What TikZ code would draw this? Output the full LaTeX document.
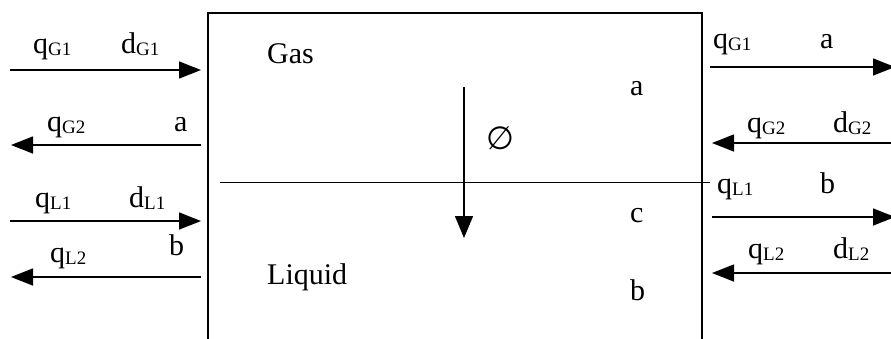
\documentclass[tikz,border=0pt]{standalone}
\usepackage{fontspec}
\setmainfont{Liberation Serif}
\newfontfamily\symfont{DejaVu Sans}
\usetikzlibrary{arrows.meta}
\newcommand\sbs[1]{\raisebox{-2pt}{\fontsize{19}{19}\selectfont #1}}
\tikzset{
  lbl/.style={anchor=base west, inner sep=0pt, font=\fontsize{30}{30}\selectfont},
  flow/.style={line width=1.5pt, -{Triangle[length=22pt,width=17pt]}},
  wall/.style={line width=2.4pt},
}
\begin{document}
\begin{tikzpicture}[x=1pt,y=-1pt]
\useasboundingbox (0,0) rectangle (891,338);
\begin{scope}
\clip (0,0) rectangle (891,338);
% vessel
\draw[wall] (208,345) -- (208,13) -- (702,13) -- (702,345);
\coordinate (ia) at (220,182);
\coordinate (ib) at (710,182);
\draw[line width=0.8pt] (ia) -- (ib);
% vertical arrow
\coordinate (va) at (464,87);
\coordinate (vb) at (464,238);
\draw[line width=1.5pt, -{Triangle[length=22pt,width=18pt]}] (va) -- (vb);
% left arrows
\coordinate (l1a) at (10,70);  \coordinate (l1b) at (201,70);
\coordinate (l2a) at (201,145); \coordinate (l2b) at (11,145);
\coordinate (l3a) at (10,221); \coordinate (l3b) at (201,221);
\coordinate (l4a) at (201,277); \coordinate (l4b) at (11,277);
\draw[flow] (l1a) -- (l1b);
\draw[flow] (l2a) -- (l2b);
\draw[flow] (l3a) -- (l3b);
\draw[flow] (l4a) -- (l4b);
% right arrows
\coordinate (r1a) at (710,67);  \coordinate (r1b) at (895,67);
\coordinate (r2a) at (891,143); \coordinate (r2b) at (712,143);
\coordinate (r3a) at (712,217); \coordinate (r3b) at (895,217);
\coordinate (r4a) at (891,273); \coordinate (r4b) at (712,273);
\draw[flow] (r1a) -- (r1b);
\draw[flow] (r2a) -- (r2b);
\draw[flow] (r3a) -- (r3b);
\draw[flow] (r4a) -- (r4b);
\end{scope}
% left labels
\node[lbl] (tqg1) at (33,53) {q\sbs{G1}};
\node[lbl] (tdg1) at (121,53) {d\sbs{G1}};
\node[lbl] (tqg2) at (47,131) {q\sbs{G2}};
\node[lbl] (ta1) at (174,131) {a};
\node[lbl] (tql1) at (35,207) {q\sbs{L1}};
\node[lbl] (tdl1) at (129,207) {d\sbs{L1}};
\node[lbl] (tb1) at (169,255) {b};
\node[lbl] (tql2) at (50,262) {q\sbs{L2}};
% inside
\node[lbl] (gas) at (267,63) {Gas};
\node[lbl] (liq) at (267,284) {Liquid};
\node[inner sep=0pt, font=\symfont\fontsize{32}{32}\selectfont] (phi) at (500,138) {∅};
\node[lbl] (ia1) at (630,95) {a};
\node[lbl] (ic) at (630,222) {c};
\node[lbl] (ib1) at (630,300) {b};
% right labels
\node[lbl] (rqg1) at (713,48) {q\sbs{G1}};
\node[lbl] (ra) at (820,48) {a};
\node[lbl] (rqg2) at (747,132) {q\sbs{G2}};
\node[lbl] (rdg2) at (833,132) {d\sbs{G2}};
\node[lbl] (rql1) at (717,193) {q\sbs{L1}};
\node[lbl] (rb) at (820,193) {b};
\node[lbl] (rql2) at (748,258) {q\sbs{L2}};
\node[lbl] (rdl2) at (833,258) {d\sbs{L2}};
\end{tikzpicture}
\end{document}
